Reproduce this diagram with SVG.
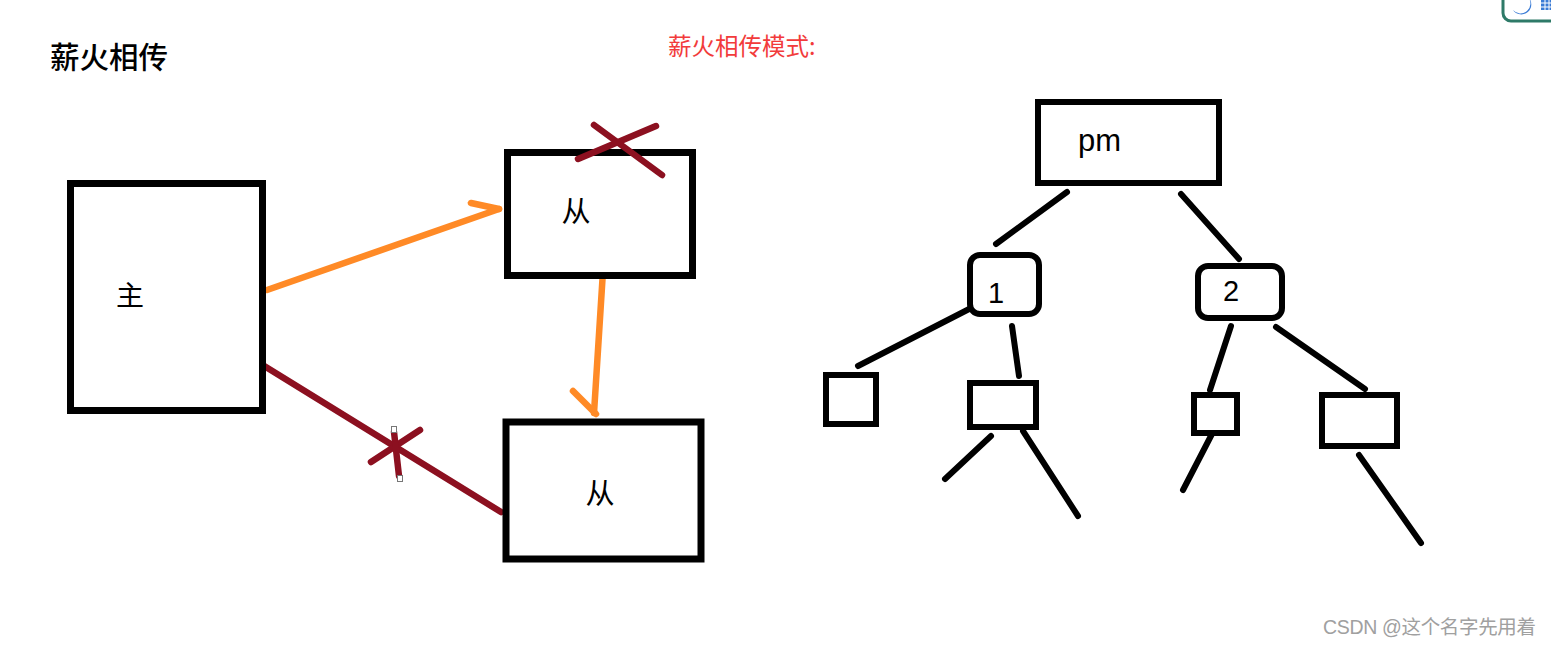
<svg xmlns="http://www.w3.org/2000/svg" width="1551" height="646" viewBox="0 0 1551 646">
  <style>
    .box { fill: #ffffff; stroke: #000000; stroke-width: 7; }
    .tbox { fill: #ffffff; stroke: #000000; stroke-width: 6; }
    .tline { stroke: #000000; stroke-width: 6; stroke-linecap: round; fill: none; }
    .orange { stroke: #ff8a26; stroke-width: 6.5; stroke-linecap: round; stroke-linejoin: round; fill: none; }
    .dred { stroke: #8c1020; stroke-width: 6.5; stroke-linecap: round; fill: none; }
    .cjk { font-family: "Noto Sans CJK SC", "Noto Sans", sans-serif; fill: #000000; }
    .lat { font-family: "Liberation Sans", Arial, sans-serif; fill: #000000; }
  </style>
  <rect x="0" y="0" width="1551" height="646" fill="#ffffff"/>

  <!-- top-right partial toolbar icon -->
  <g id="corner-icon">
    <rect x="1503" y="-12" width="70" height="33" rx="8" fill="#ffffff" stroke="#2e7a68" stroke-width="3"/>
    <path d="M1528,-3 A10,10 0 1,1 1513,10 A8,8 0 0,0 1528,-3 Z" fill="#3a7bd5"/>
    <rect x="1541" y="-1" width="12" height="11" fill="#3a7bd5"/>
    <path d="M1541,3 H1553 M1541,7 H1553 M1545,-1 V10 M1549,-1 V10" stroke="#ffffff" stroke-width="1"/>
  </g>

  <text class="cjk" x="50" y="68" font-size="29.5" font-weight="500">薪火相传</text>
  <text x="668" y="55" font-size="23.5" fill="#f23b3b" font-family="Noto Sans CJK SC, Noto Sans, sans-serif">薪火相传模式:</text>

  <!-- connectors -->
  <g id="connectors">
    <path class="orange" d="M267,290 L499,209"/>
    <path class="orange" d="M471,203 L499,209"/>
    <path class="orange" d="M603,271 L594,413"/>
    <path class="orange" d="M573,391 L596,414"/>
    <path class="dred" d="M261,364 L501,512"/>
    <path class="dred" d="M371,462 L420,430"/>
    <path class="dred" d="M394,432 L399,476"/>

    <path class="tline" d="M1067,192 L996,244"/>
    <path class="tline" d="M1181,194 L1239,259"/>
    <path class="tline" d="M975,306 L858,366"/>
    <path class="tline" d="M1012,326 L1019,376"/>
    <path class="tline" d="M991,436 L945,479"/>
    <path class="tline" d="M1023,431 L1078,516"/>
    <path class="tline" d="M1231,326 L1210,390"/>
    <path class="tline" d="M1276,327 L1365,389"/>
    <path class="tline" d="M1213,432 L1183,490"/>
    <path class="tline" d="M1359,455 L1421,543"/>
  </g>

  <!-- selection handles on the cross -->
  <g id="handles" fill="#ffffff" stroke="#777777" stroke-width="1">
    <rect x="391.5" y="426.5" width="5" height="6"/>
    <rect x="397.5" y="475.5" width="5" height="6"/>
  </g>

  <!-- left diagram nodes -->
  <g id="node-master">
    <rect class="box" x="70.5" y="183.5" width="192" height="227"/>
    <text class="cjk" x="130" y="306" font-size="28" text-anchor="middle">主</text>
  </g>
  <g id="node-slave-top">
    <rect class="box" x="507.5" y="152.5" width="185" height="123"/>
    <text class="cjk" x="576" y="222" font-size="29" text-anchor="middle">从</text>
  </g>
  <g id="node-slave-bottom">
    <rect class="box" x="506" y="422" width="195" height="137"/>
    <text class="cjk" x="600" y="504" font-size="29" text-anchor="middle">从</text>
  </g>

  <!-- cross over the top box edge -->
  <g id="top-cross">
    <path class="dred" d="M594,125 L662,175"/>
    <path class="dred" d="M578,159 L656,126"/>
  </g>

  <!-- tree -->
  <g id="node-pm">
    <rect class="tbox" x="1038" y="102" width="181" height="81"/>
    <text class="lat" x="1078" y="151" font-size="31">pm</text>
  </g>
  <g id="node-1">
    <rect class="tbox" x="970" y="255" width="69" height="59" rx="10"/>
    <text class="lat" x="996" y="303" font-size="29" text-anchor="middle">1</text>
  </g>
  <g id="node-2">
    <rect class="tbox" x="1198" y="266" width="84" height="52" rx="10"/>
    <text class="lat" x="1231" y="301" font-size="29" text-anchor="middle">2</text>
  </g>
  <g id="node-1a">
    <rect class="tbox" x="826" y="375" width="50" height="49"/>
  </g>
  <g id="node-1b">
    <rect class="tbox" x="970" y="383" width="66" height="44"/>
  </g>
  <g id="node-2a">
    <rect class="tbox" x="1194" y="395" width="43" height="38"/>
  </g>
  <g id="node-2b">
    <rect class="tbox" x="1322" y="395" width="75" height="51"/>
  </g>

  <text x="1323" y="634" font-size="19.5" fill="#a0a0a0" font-family="Liberation Sans, Noto Sans CJK SC, sans-serif" textLength="213">CSDN @这个名字先用着</text>
</svg>
